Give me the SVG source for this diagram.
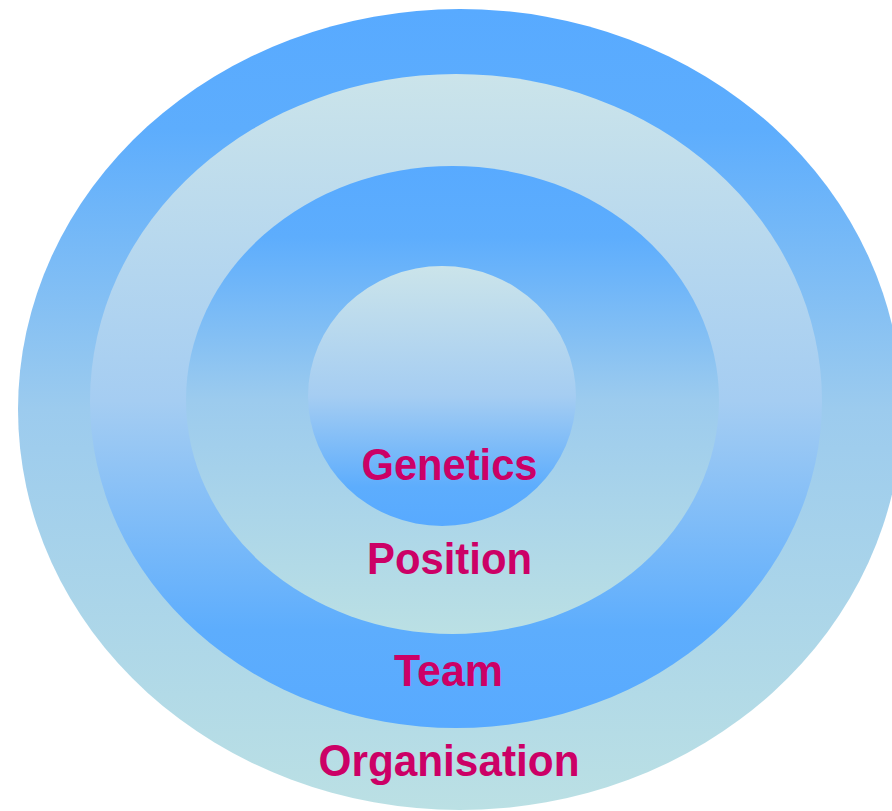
<svg xmlns="http://www.w3.org/2000/svg" width="892" height="811" viewBox="0 0 892 811">
  <defs>
    <linearGradient id="blueTop" x1="0" y1="0" x2="0" y2="1">
      <stop offset="0" stop-color="#58aaff"/>
      <stop offset="0.15" stop-color="#5dadfd"/>
      <stop offset="0.5" stop-color="#9ccbee"/>
      <stop offset="1" stop-color="#bbe0e4"/>
    </linearGradient>
    <linearGradient id="lightTop" x1="0" y1="0" x2="0" y2="1">
      <stop offset="0" stop-color="#cbe4ea"/>
      <stop offset="0.5" stop-color="#a5cdf2"/>
      <stop offset="0.85" stop-color="#5dadfd"/>
      <stop offset="1" stop-color="#58aaff"/>
    </linearGradient>
    <style>
      .lbl { font-family: "Liberation Sans", Arial, sans-serif; font-weight: bold; font-size: 45px; fill: #cc0066; text-anchor: middle; }
    </style>
  </defs>
  <g id="organisation">
    <ellipse cx="460" cy="409.5" rx="442" ry="400.5" fill="url(#blueTop)"/>
  </g>
  <g id="team">
    <ellipse cx="456" cy="401" rx="366" ry="327" fill="url(#lightTop)"/>
  </g>
  <g id="position">
    <ellipse cx="452.5" cy="400" rx="266.5" ry="234" fill="url(#blueTop)"/>
  </g>
  <g id="genetics">
    <ellipse cx="442" cy="396" rx="134" ry="130" fill="url(#lightTop)"/>
  </g>
  <g id="connectors"/>
  <g id="labels">
    <text class="lbl" x="449.5" y="480" textLength="176" lengthAdjust="spacingAndGlyphs">Genetics</text>
    <text class="lbl" x="449.5" y="574" textLength="165" lengthAdjust="spacingAndGlyphs">Position</text>
    <text class="lbl" x="448.5" y="686" textLength="109" lengthAdjust="spacingAndGlyphs">Team</text>
    <text class="lbl" x="449" y="776" textLength="261" lengthAdjust="spacingAndGlyphs">Organisation</text>
  </g>
</svg>
